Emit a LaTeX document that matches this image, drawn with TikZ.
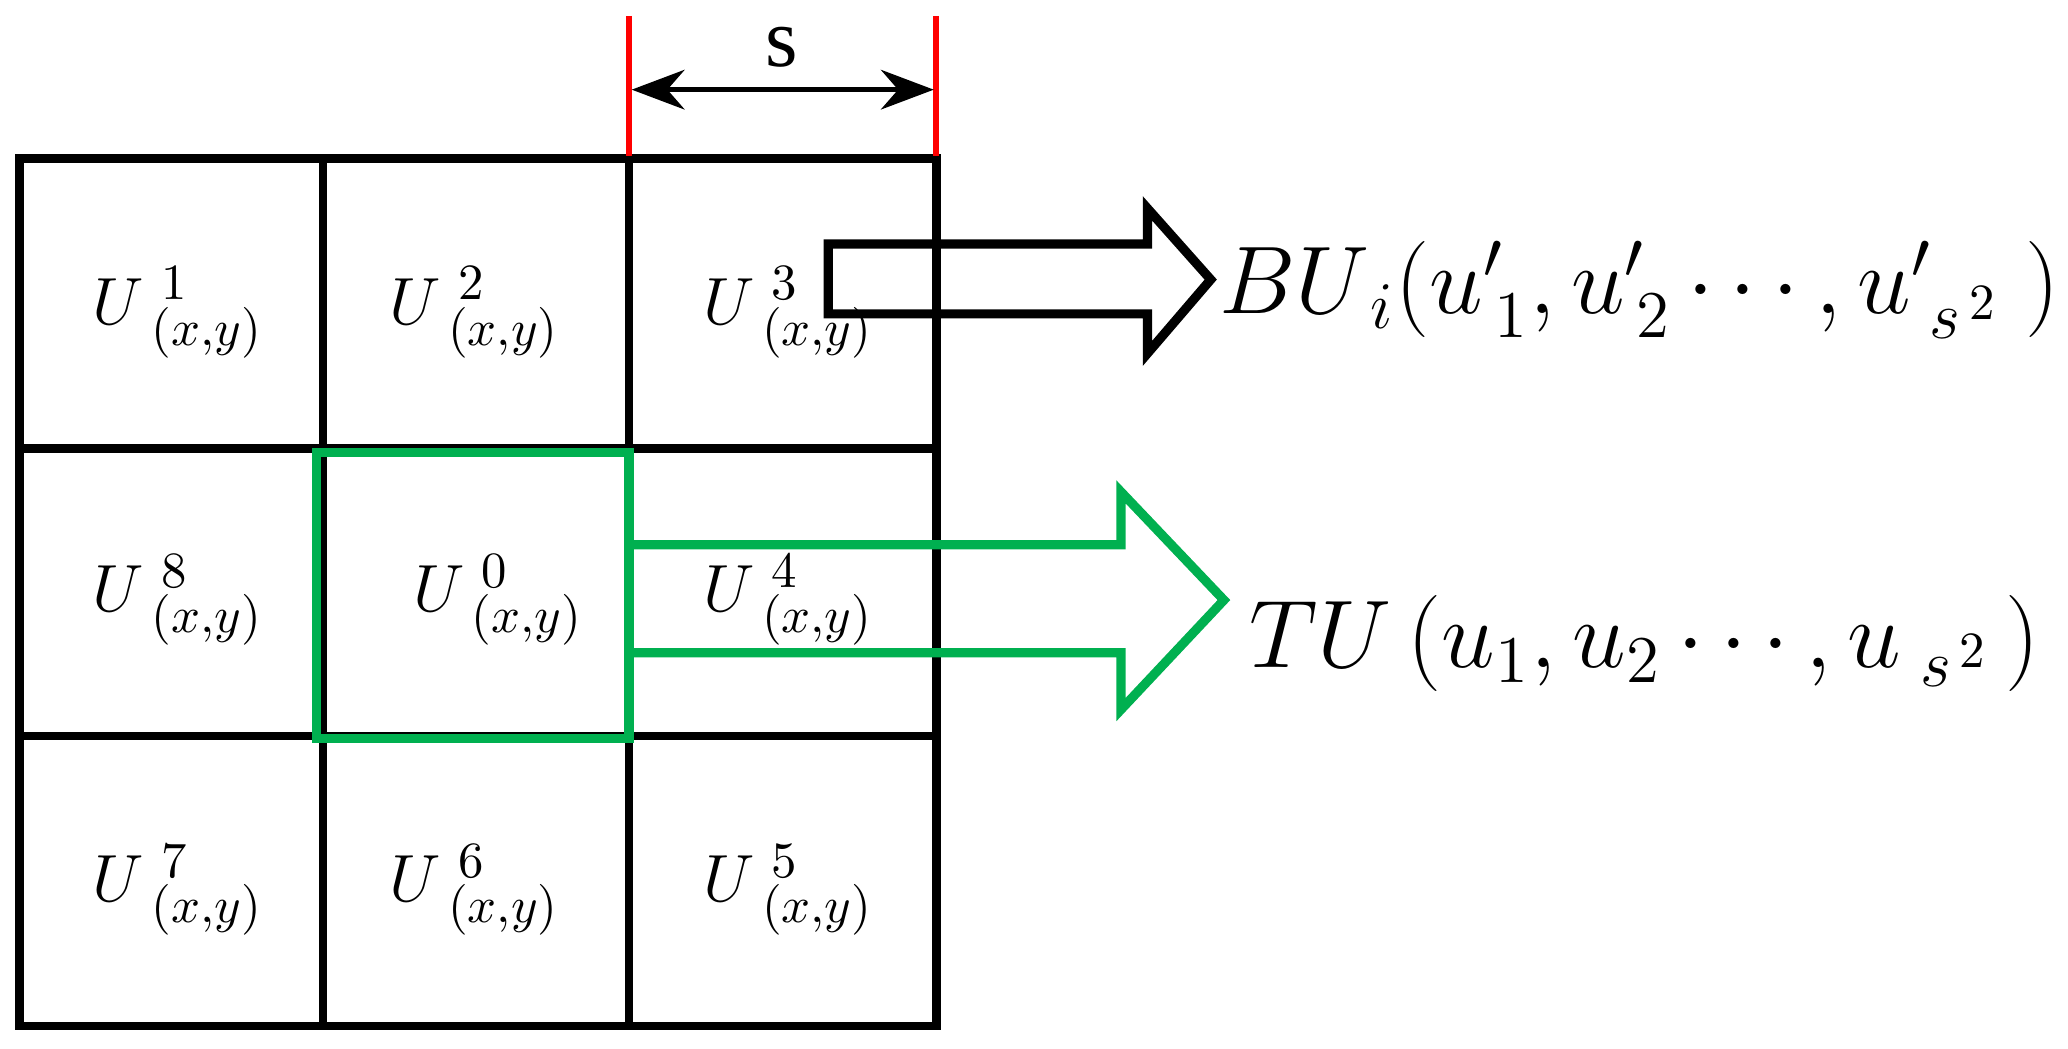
\documentclass[tikz,border=0pt]{standalone}
\usepackage{fontspec}
\setmainfont{Liberation Serif}
\usetikzlibrary{arrows.meta}
\definecolor{gr}{RGB}{0,176,80}
\begin{document}
\begin{tikzpicture}[x=0.01cm,y=-0.01cm,
  grid/.style={line width=0.065cm,black},
  cell/.style={font=\fontsize{15}{18}\selectfont},
  big/.style={font=\fontsize{21}{25}\selectfont,anchor=west}]
\useasboundingbox (0,0) rectangle (1568,795);
% grid
\draw[grid] (15,120) rectangle (710,778);
\draw[grid] (245,120) -- (245,778) (477,120) -- (477,778);
\draw[grid] (15,340) -- (710,340) (15,558) -- (710,558);
% red markers
\draw[red,line width=0.045cm] (477,12) -- (477,118) (710,12) -- (710,118);
\coordinate (sl) at (479,68); \coordinate (sr) at (708,68);
\draw[line width=0.04cm,{Stealth[length=0.4cm,width=0.3cm]}-{Stealth[length=0.4cm,width=0.3cm]}] (sl) -- (sr);
\node[font=\fontsize{18}{22}\selectfont] (s) at (593,36) {s};
% green box
\draw[line width=0.07cm,gr] (240,343) rectangle (477,560);
% black hollow arrow
\draw[line width=0.07cm,line join=miter] (628,185) -- (870,185) -- (870,158) -- (918,212) -- (870,268) -- (870,238) -- (628,238) -- cycle;
% green hollow arrow
\draw[line width=0.07cm,gr,line join=miter] (480,413) -- (850,413) -- (850,373) -- (928,455) -- (850,538) -- (850,495) -- (480,495);
% cell labels
\foreach \n/\x/\y in {1/135/237,2/360/237,3/598/237,8/135/455,0/378/455,4/598/455,7/135/675,6/360/675,5/598/675}
  \node[cell] (c\n) at (\x,\y) {$U^{\,\,\n}_{\;(x,y)}$};
% right labels
\node[big] (bu) at (912,220) {$BU_{\,i}(u'_{\,1},u'_{\,2}\cdots,u'_{\;s^{\,2}}\;)$};
\node[big] (tu) at (935,488) {$TU\,(u_{1},u_{2}\cdots,u_{\;s^{\,2}}\,)$};
\end{tikzpicture}
\end{document}
